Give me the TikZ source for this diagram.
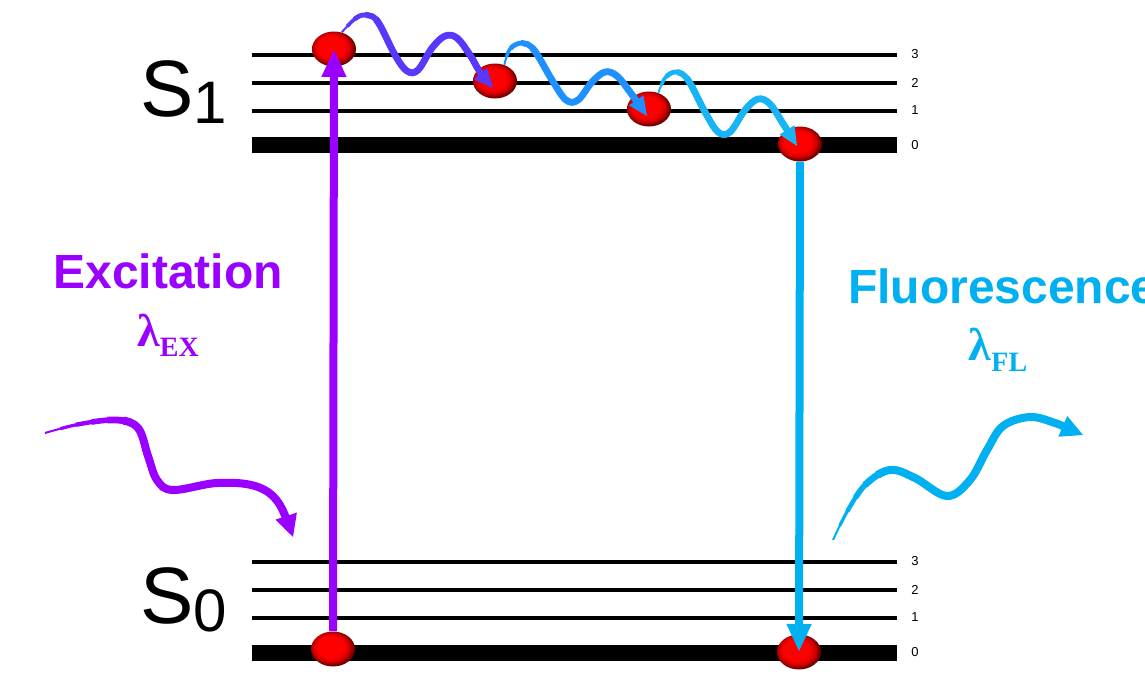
\documentclass[tikz,border=0pt]{standalone}
\usepackage{fontspec}
\setmainfont{Liberation Sans}
\newfontfamily\lamfont{Liberation Serif}
\usetikzlibrary{arrows.meta,shapes.geometric}
\definecolor{exc}{RGB}{153,0,255}
\definecolor{fl}{RGB}{0,176,240}
\definecolor{waveA}{RGB}{88,56,250}
\definecolor{waveB}{RGB}{30,144,255}
\definecolor{waveC}{RGB}{24,180,245}
\pgfdeclareradialshading{redball}{\pgfpoint{-4bp}{4bp}}{color(0bp)=(red); color(15bp)=(red); color(21bp)=(red!80!black); color(25bp)=(red!45!black); color(50bp)=(red!45!black)}
\tikzset{
  level/.style={line width=2pt},
  ground/.style={line width=8pt},
  ball/.style={ellipse, minimum width=22pt, minimum height=17.5pt, inner sep=0pt, shading=redball},
  vib/.style={font=\fontsize{6.5pt}{7pt}\selectfont},
  smalltip/.style={-{Triangle[length=9.5pt,width=8.5pt]}},
  bigtip/.style={-{Triangle[length=11pt,width=11pt]}},
  vert/.style={line width=4pt, -{Triangle[length=14pt,width=11.5pt]}},
  statelab/.style={anchor=base west, font=\fontsize{40pt}{40pt}\selectfont},
  biglab/.style={font=\bfseries\fontsize{24pt}{28pt}\selectfont},
  lam/.style={font=\lamfont\bfseries\fontsize{23pt}{26pt}\selectfont}
}
% tapered wavy arrow: #1 colour, #2 tip style, #3 shorten, #4 width/offset list, #5 coordinates
\newcommand\taperwave[5]{%
  \draw[#1, line width=1pt, #2] plot[smooth, tension=0.6] coordinates {#5};
  \foreach \w/\o in {#4} {
    \draw[#1, line width=\w pt, dash pattern=on 0pt off \o pt on 3000pt, shorten >=#3] plot[smooth, tension=0.6] coordinates {#5};
  }%
}
\begin{document}
\begin{tikzpicture}[x=0.5pt,y=-0.5pt]
\useasboundingbox (0,0) rectangle (1145,680);
% S1 levels
\draw[level] (252,54.5) -- (897,54.5);
\draw[level] (252,82.5) -- (897,82.5);
\draw[level] (252,110.5) -- (897,110.5);
\draw[ground] (252,145) -- (897,145);
% S0 levels
\draw[level] (252,561.5) -- (897,561.5);
\draw[level] (252,589.5) -- (897,589.5);
\draw[level] (252,617.5) -- (897,617.5);
\draw[ground] (252,652.5) -- (897,652.5);
% vibrational labels
\node[vib] (u3) at (915,54.5) {3};
\node[vib] (u2) at (915,82.5) {2};
\node[vib] (u1) at (915,110.5) {1};
\node[vib] (u0) at (915,145) {0};
\node[vib] (l3) at (915,561.5) {3};
\node[vib] (l2) at (915,589.5) {2};
\node[vib] (l1) at (915,617.5) {1};
\node[vib] (l0) at (915,652.5) {0};
% state labels
\node[statelab] (S1) at (133,116) {S\raisebox{-3.5pt}{\fontsize{30pt}{30pt}\selectfont 1}};
\node[statelab] (S0) at (133,623) {S\raisebox{-4pt}{\fontsize{30pt}{30pt}\selectfont 0}};
% balls
\node[ball] (b1) at (334,49) {};
\node[ball] (b2) at (495,81) {};
\node[ball] (b3) at (649,109) {};
\node[ball] (b4) at (800,144) {};
\node[ball] (b0l) at (333,649) {};
\node[ball] (b0r) at (799,652) {};
% vertical transitions
\draw[vert, exc] (b0l.north) -- (b1.center);
\draw[vert, fl] (b4.south) -- (b0r.center);
% vibrational relaxation waves
\taperwave{waveA}{smalltip}{8pt}{1.8/4,2.4/9,3/15,3.4/21}{(b1.65) (356,18) (367,15) (378,22) (395,55) (407,71) (418,70) (432,48) (445,36) (457,38) (470,55) (480,72) (493,88)}
\taperwave{waveB}{smalltip}{8pt}{1.8/4,2.4/9,3/15,3.4/21}{(b2.60) (510,49) (522,43) (534,50) (552,80) (566,100) (578,100) (592,82) (605,72) (617,76) (630,92) (647,116)}
\taperwave{waveC}{smalltip}{8pt}{1.8/4,2.4/9,3/15,3.4/21}{(b3.60) (665,78) (676,72) (688,80) (705,112) (718,132) (730,132) (745,110) (758,99) (770,104) (782,122) (797,146)}
% labels
\node[biglab, text=exc, anchor=base] (exctext) at (168,288) {Excitation};
\node[lam, text=exc, anchor=base] (lex) at (168,346) {λ\raisebox{-5pt}{\fontsize{14pt}{14pt}\selectfont EX}};
\node[biglab, text=fl, anchor=base west] (fltext) at (841,303) {Fluorescence};
\node[lam, text=fl, anchor=base] (lfl) at (998,360) {λ\raisebox{-5.5pt}{\fontsize{14pt}{14pt}\selectfont FL}};
% photon waves
\taperwave{exc}{bigtip}{9pt}{1.6/8,2.2/16,2.8/24,3.4/32,4/40}{(45,433) (80,424) (117,420) (138,428) (148,456) (157,480) (173,490) (217,483) (255,486) (278,502) (293,537)}
\taperwave{fl}{bigtip}{9pt}{1.6/8,2.2/16,2.8/24,3.4/32,4/40}{(833,540) (848,510) (866,484) (890,470) (915,478) (947,496) (970,480) (987,450) (1003,426) (1030,417) (1055,423) (1069,429) (1083,435)}
\end{tikzpicture}
\end{document}
